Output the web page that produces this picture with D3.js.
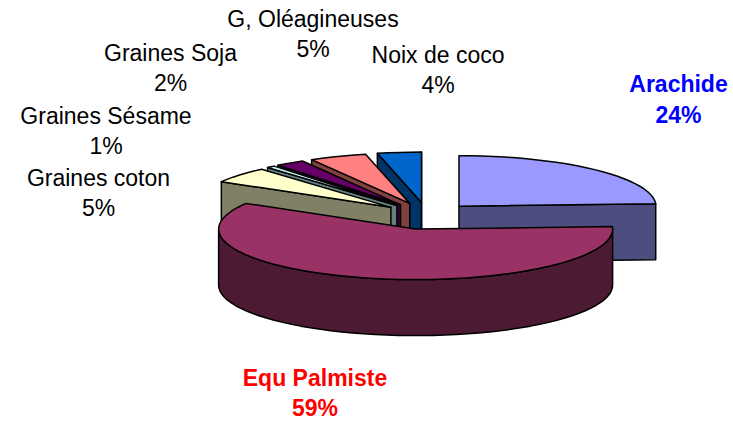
<!DOCTYPE html>
<html>
<head>
<meta charset="utf-8">
<script src="https://cdn.jsdelivr.net/npm/d3@7"></script>
<style>
  html, body { margin: 0; padding: 0; background: #fff; }
  text { font-family: "Liberation Sans", Arial, sans-serif; font-size: 23px; text-anchor: middle; }
</style>
</head>
<body>
<script>
// clockwise from 12 o'clock
const categories = ["Arachide", "Equ Palmiste", "Graines coton", "Graines Sésame", "Graines Soja", "G, Oléagineuses", "Noix de coco"];
const shares = [24.2, 59.3, 5.1, 0.7, 2.4, 4.7, 3.6];
const topColors = ["#9999ff", "#993366", "#ffffcc", "#ccffff", "#660066", "#ff8080", "#0066cc"];
const wallColors = ["#4d4d80", "#4d1a33", "#808066", "#668080", "#330033", "#804040", "#003366"];

// label centre (x, first baseline), layout only
const labelPos = [[678.5, 92], [315, 385.5], [98.5, 186], [106, 124], [170.5, 61], [313, 27], [438, 63]];
const labelFill = ["#0000ff", "#ff0000", "#000", "#000", "#000", "#000", "#000"];
const labelBold = [true, true, false, false, false, false, false];

const width = 733, height = 421;
const cx = 426.8, cy = 216, depth = 56;
const explodeX = 46.7, explodeY = 13.5;

const x = d3.scaleLinear().domain([-1, 1]).range([-197, 197]);
const y = d3.scaleLinear().domain([-1, 1]).range([-50.5, 50.5]);

const svg = d3.select("body").append("svg")
    .attr("width", width)
    .attr("height", height)
    .style("display", "block");

const arcs = d3.pie().sort(null)(shares).map((d, i) => {
  const mid = (d.startAngle + d.endAngle) / 2;
  return {
    ...d, i,
    ax: cx + explodeX * Math.sin(mid),
    ay: cy - explodeY * Math.cos(mid)
  };
});

const rim = (s, a) => [s.ax + x(Math.sin(a)), s.ay - y(Math.cos(a))];
const drop = ([px, py]) => [px, py + depth];
const line = d3.line();

function rimPoints(s, a0, a1) {
  const n = Math.max(2, Math.ceil((a1 - a0) / 0.06));
  return d3.range(n + 1).map(k => rim(s, a0 + (a1 - a0) * k / n));
}

function poly(pts, fill) {
  svg.append("path")
      .attr("d", line(pts) + "Z")
      .attr("fill", fill)
      .attr("stroke", "#000")
      .attr("stroke-width", 1.5)
      .attr("stroke-linejoin", "round");
}

function drawSlice(s) {
  const wall = wallColors[s.i];
  const apex = [s.ax, s.ay];
  // radial faces, only when turned to the viewer
  if (Math.sin(s.startAngle) < 0) {
    const p = rim(s, s.startAngle);
    poly([p, apex, drop(apex), drop(p)], wall);
  }
  if (Math.sin(s.endAngle) > 0) {
    const p = rim(s, s.endAngle);
    poly([apex, p, drop(p), drop(apex)], wall);
  }
  // outer face, front half of the ellipse
  const a0 = Math.max(s.startAngle, Math.PI / 2);
  const a1 = Math.min(s.endAngle, 3 * Math.PI / 2);
  if (a1 > a0) {
    const pts = rimPoints(s, a0, a1);
    poly(pts.concat(pts.map(drop).reverse()), wall);
  }
  poly([apex].concat(rimPoints(s, s.startAngle, s.endAngle)), topColors[s.i]);
}

// back to front: the small slices overlap right to left, then the two big ones
[6, 5, 4, 3, 2, 0, 1].forEach(i => drawSlice(arcs[i]));

const pct = d3.format(".0f");
categories.forEach((name, i) => {
  const gap = labelBold[i] ? 30.5 : 29.5;
  const t = svg.append("text")
      .attr("fill", labelFill[i])
      .attr("font-weight", labelBold[i] ? "bold" : "normal");
  t.append("tspan").attr("x", labelPos[i][0]).attr("y", labelPos[i][1]).text(name);
  t.append("tspan").attr("x", labelPos[i][0]).attr("y", labelPos[i][1] + gap).text(pct(shares[i]) + "%");
});
</script>
</body>
</html>
